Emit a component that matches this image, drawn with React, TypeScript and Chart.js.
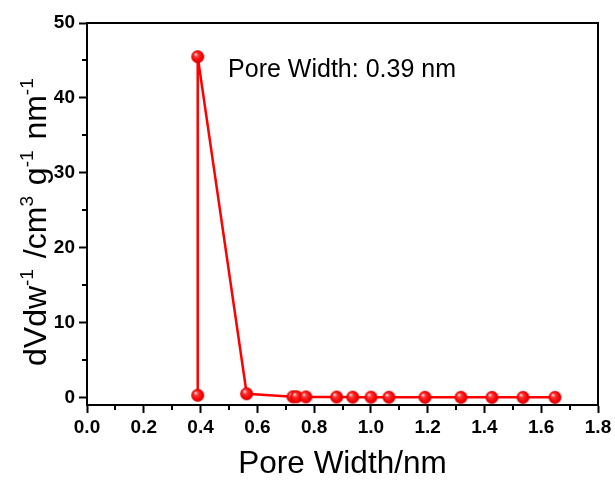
import React, { useEffect, useRef } from "react";
import { Chart, registerables } from "chart.js";

Chart.register(...registerables);

const poreWidth = [0.39, 0.39, 0.5625, 0.7256, 0.7386, 0.771, 0.8795, 0.936, 1.0003, 1.0637, 1.1905, 1.3173, 1.4266, 1.5357, 1.6484];
const dVdw = [0.3, 45.5, 0.5, 0.1, 0.1, 0.08, 0.06, 0.05, 0.05, 0.04, 0.03, 0.03, 0.02, 0.02, 0.02];
const xTicks = [0, 0.2, 0.4, 0.6, 0.8, 1.0, 1.2, 1.4, 1.6, 1.8];
const xMinorTicks = [0.1, 0.3, 0.5, 0.7, 0.9, 1.1, 1.3, 1.5, 1.7];
const yTicks = [0, 10, 20, 30, 40, 50];
const yMinorTicks = [5, 15, 25, 35, 45];
const annotationText = "Pore Width: 0.39 nm";
const annotationAt = { x: 0.497, y: 42.8 };
const xTitle = "Pore Width/nm";
const yTitleParts: [string, boolean][] = [
  ["dVdw", false], ["-1", true], [" /cm", false], ["3", true], [" g", false], ["-1", true], [" nm", false], ["-1", true],
];

const FONT = '"Liberation Sans", Arial, sans-serif';

function makeSphere(r: number): HTMLCanvasElement {
  const size = Math.ceil(r * 2) + 2;
  const c = document.createElement("canvas");
  c.width = size;
  c.height = size;
  const g = c.getContext("2d")!;
  const cx = size / 2, cy = size / 2;
  const grad = g.createRadialGradient(cx - r * 0.35, cy - r * 0.4, r * 0.05, cx, cy, r);
  grad.addColorStop(0, "#ffe0e0");
  grad.addColorStop(0.3, "#ff3535");
  grad.addColorStop(0.75, "#f40000");
  grad.addColorStop(1, "#d00000");
  g.fillStyle = grad;
  g.beginPath();
  g.arc(cx, cy, r, 0, Math.PI * 2);
  g.fill();
  return c;
}

const decorPlugin = {
  id: "decor",
  afterDraw(chart: any) {
    const { ctx, chartArea, scales } = chart;
    const x = scales.x, y = scales.y;
    ctx.save();
    ctx.strokeStyle = "#000";
    ctx.lineWidth = 2;
    ctx.beginPath();
    ctx.moveTo(chartArea.left - 1, chartArea.top);
    ctx.lineTo(chartArea.right, chartArea.top);
    ctx.lineTo(chartArea.right, chartArea.bottom + 1);
    ctx.stroke();
    ctx.beginPath();
    for (const v of xMinorTicks) {
      const px = Math.round(x.getPixelForValue(v));
      ctx.moveTo(px, chartArea.bottom);
      ctx.lineTo(px, chartArea.bottom + 5);
    }
    for (const v of yMinorTicks) {
      const py = Math.round(y.getPixelForValue(v));
      ctx.moveTo(chartArea.left, py);
      ctx.lineTo(chartArea.left - 5, py);
    }
    ctx.stroke();
    ctx.fillStyle = "#000";
    ctx.font = `25px ${FONT}`;
    ctx.textBaseline = "alphabetic";
    ctx.textAlign = "left";
    ctx.fillText(annotationText, x.getPixelForValue(annotationAt.x), y.getPixelForValue(annotationAt.y));
    ctx.translate(46, 366);
    ctx.rotate(-Math.PI / 2);
    let cursor = 0;
    for (const [t, sup] of yTitleParts) {
      ctx.font = sup ? `19px ${FONT}` : `32px ${FONT}`;
      ctx.fillText(t, cursor, sup ? -13 : 0);
      cursor += ctx.measureText(t).width + (sup ? 2 : 0);
    }
    ctx.restore();
  },
};

export default function App() {
  const ref = useRef<HTMLCanvasElement>(null);
  useEffect(() => {
    document.body.style.margin = "0";
    const sphere = makeSphere(6.5);
    const chart = new Chart(ref.current!, {
      type: "line",
      data: {
        datasets: [
          {
            data: poreWidth.map((v, i) => ({ x: v, y: dVdw[i] })),
            borderColor: "#ff0000",
            borderWidth: 2.5,
            pointStyle: sphere as any,
            pointRadius: 6.5,
            tension: 0,
          },
        ],
      },
      options: {
        animation: false,
        responsive: false,
        devicePixelRatio: 1,
        layout: { padding: { top: 23, right: 17, left: 0, bottom: 0 } },
        plugins: { legend: { display: false }, tooltip: { enabled: false } },
        scales: {
          x: {
            type: "linear",
            min: 0,
            max: 1.8,
            afterBuildTicks: (s: any) => { s.ticks = xTicks.map((v) => ({ value: v })); },
            afterFit: (s: any) => { s.height = 76; },
            ticks: {
              color: "#000",
              font: { family: FONT, size: 19, weight: "bold" },
              padding: 3,
              maxRotation: 0,
              callback: (v: any) => Number(v).toFixed(1),
            },
            grid: { drawOnChartArea: false, drawTicks: true, tickLength: 8, tickWidth: 2, tickColor: "#000" },
            border: { display: true, color: "#000", width: 2 },
            title: {
              display: true,
              text: xTitle,
              color: "#000",
              font: { family: FONT, size: 31.5, lineHeight: 1 },
              padding: { top: 0, bottom: 1 },
            },
          },
          y: {
            type: "linear",
            min: -1,
            max: 50,
            afterBuildTicks: (s: any) => { s.ticks = yTicks.map((v) => ({ value: v })); },
            afterFit: (s: any) => { s.width = 87; },
            ticks: {
              color: "#000",
              font: { family: FONT, size: 19, weight: "bold" },
              padding: 4,
            },
            grid: { drawOnChartArea: false, drawTicks: true, tickLength: 8, tickWidth: 2, tickColor: "#000" },
            border: { display: true, color: "#000", width: 2 },
          },
        },
      },
      plugins: [decorPlugin],
    });
    return () => chart.destroy();
  }, []);
  return (
    <div style={{ width: 615, height: 481 }}>
      <canvas ref={ref} width={615} height={481} style={{ display: "block" }} />
    </div>
  );
}
